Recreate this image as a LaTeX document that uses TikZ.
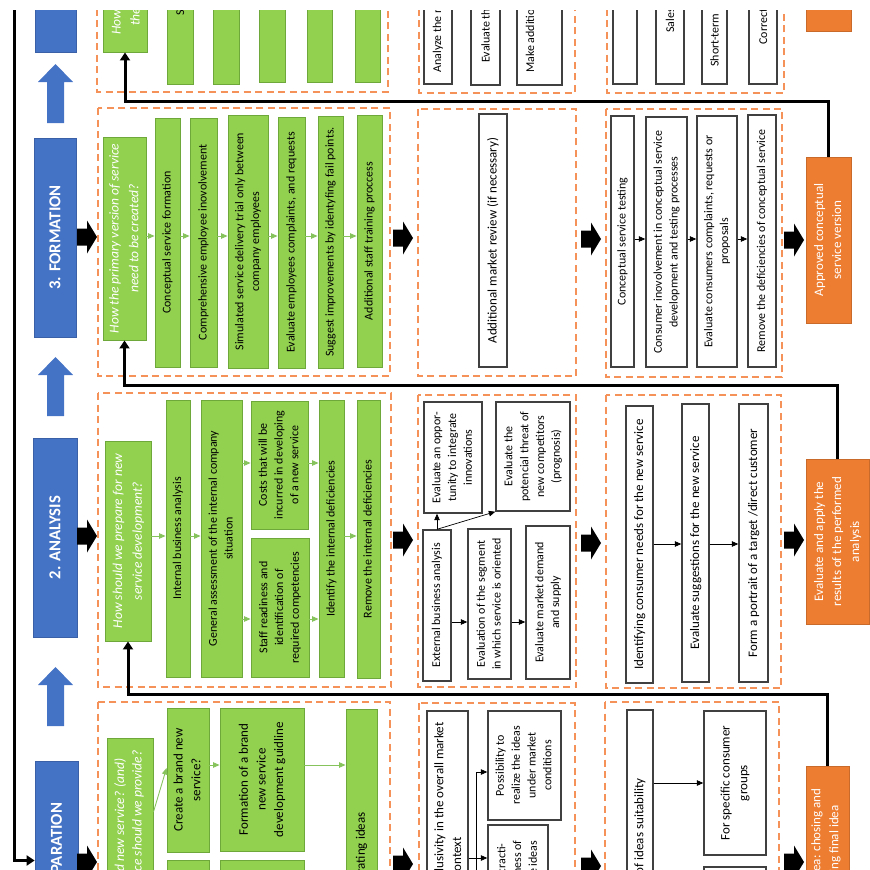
\documentclass[tikz,border=0pt]{standalone}
\usepackage{fontspec}
\setmainfont{Carlito}
\usepackage{graphicx}
\usetikzlibrary{arrows.meta}
\definecolor{grn}{HTML}{92D050}
\definecolor{grnln}{HTML}{6FA83A}
\definecolor{grnar}{HTML}{86C35C}
\definecolor{blu}{HTML}{4472C4}
\definecolor{org}{HTML}{ED7D31}
\definecolor{orgdash}{HTML}{F4925A}
\newcommand{\vt}[1]{\rotatebox{90}{\begin{tabular}{@{}c@{}}#1\end{tabular}}}
\newcommand{\txts}{\fontsize{6.8}{9}\selectfont}
\newcommand{\txtl}{\fontsize{7.4}{10}\selectfont}

\tikzset{
  bx/.style n args={4}{at={({(#1+#3)/2},{(#2+#4)/2})},
    minimum width={(#3-#1)*0.2mm},minimum height={(#4-#2)*0.2mm}},
  gbox/.style={draw=grnln,fill=grn,line width=0.5pt,inner sep=0pt,font=\txts},
  qbox/.style={gbox,text=white,font=\fontsize{7.7}{11.3}\selectfont\itshape},
  wbox/.style={draw=black!75,fill=white,line width=0.8pt,inner sep=0pt,font=\txts},
  obox/.style={draw=org!85!black,fill=org,line width=0.5pt,inner sep=0pt,text=white,font=\fontsize{7.4}{10.2}\selectfont},
  sbox/.style={fill=blu,draw=blu!85!black,line width=0.4pt,inner sep=0pt,text=white,font=\fontsize{9.5}{11}\selectfont\bfseries},
  dbox/.style={draw=orgdash,line width=0.9pt,dash pattern=on 1.4mm off 0.9mm},
  garr/.style={draw=grnar,line width=0.5pt,-{Triangle[length=1.3mm,width=1.1mm]}},
  karr/.style={draw=black,line width=0.4pt,-{Triangle[length=1.3mm,width=1.1mm]}},
  fb/.style={draw=black,line width=0.6mm,-{Triangle[length=1.6mm,width=2mm]}},
  lbl/.style={rotate=90,inner sep=0pt,font=\txts},
  qlbl/.style={lbl,text=white,font=\fontsize{7.7}{11.3}\selectfont\itshape},
  olbl/.style={lbl,text=white,font=\fontsize{7.4}{10.2}\selectfont},
  blk/.pic={\fill[black] (-10,-8.5) -- (0,-8.5) -- (0,-16.5) -- (10,0) -- (0,16.5) -- (0,8.5) -- (-10,8.5) -- cycle;},
  uparr/.pic={\fill[blu] (0,0) -- (17.5,18) -- (8.5,18) -- (8.5,59) -- (-8.5,59) -- (-8.5,18) -- (-17.5,18) -- cycle;}
}

\begin{document}
\begin{tikzpicture}[x=0.2mm,y=-0.2mm]
  \useasboundingbox (0,0) rectangle (870,870);
  \clip (0,10) rectangle (870,870);
  % stages
  \node[sbox,bx={35}{-150}{76}{52}] (s4) {};
  \node[sbox,bx={34}{138}{76}{337}] (s3) {\rotatebox{90}{3. FORMATION}};
  \node[sbox,bx={33}{438}{77}{637}] (s2) {\rotatebox{90}{2. ANALYSIS}};
  \node[sbox,bx={35}{761}{78}{960}] (s1) {\rotatebox{90}{1. PREPARATION}};
  \pic at (55.5,64) {uparr};
  \pic at (55.5,357) {uparr};
  \pic at (55.5,667) {uparr};
  \coordinate (top) at (14,0);
  \draw[fb] (top) |- (s1.west);

  % row 4 (top, cut off)
  \draw[dbox] (97,-210) rectangle (388,92);
  \node[qbox,bx={103}{-150}{147}{52}] (q4) {};
  \node[qlbl,anchor=west] (q4a) at (116,35) {How should we introduce the new service to};
  \node[qlbl,anchor=west] (q4b) at (135,26) {the market and the consumers?};
  \node[gbox,bx={167}{-200}{193}{84}] (g4a) {};
  \node[gbox,bx={213}{-200}{239}{84}] (g4b) {};
  \node[gbox,bx={259}{-200}{285}{82}] (g4c) {};
  \node[gbox,bx={307}{-200}{332}{82}] (g4d) {};
  \node[gbox,bx={355}{-200}{380}{82}] (g4e) {};
  \node[lbl,anchor=west] (g4t) at (180,16) {Service launch to the market};
  \draw[dbox] (419,-210) rectangle (575,93);
  \node[wbox,bx={424}{-200}{452}{84}] (m4a) {};
  \node[wbox,bx={471}{-200}{500}{85}] (m4b) {};
  \node[wbox,bx={517}{-200}{562}{85}] (m4c) {};
  \node[lbl,anchor=west] (m4at) at (438,73) {Analyze the market reaction};
  \node[lbl,anchor=west] (m4bt) at (485.5,63) {Evaluate the results};
  \node[lbl,anchor=west] (m4ct) at (531,73) {Make additional changes};
  \draw[dbox] (607,-210) rectangle (784,93);
  \node[wbox,bx={613}{-200}{637}{84}] (r4a) {};
  \node[wbox,bx={656}{-200}{684}{84}] (r4b) {};
  \node[wbox,bx={702}{-200}{727}{84}] (r4c) {};
  \node[wbox,bx={749}{-200}{777}{84}] (r4d) {};
  \node[lbl,anchor=west] (r4bt) at (670,33) {Sales volume};
  \node[lbl,anchor=west] (r4ct) at (714.5,67) {Short-term results};
  \node[lbl,anchor=west] (r4dt) at (763,45) {Correct the deficiencies};
  \node[obox,bx={806}{-150}{851}{31}] (o4) {};

  % row 3: formation
  \draw[dbox] (98,108) rectangle (390,376);
  \node[qbox,bx={103}{137}{146}{340}] (q3) {\vt{How the primary version of service\\need to be created?}};
  \node[gbox,bx={155}{118}{180}{367}] (f1) {\vt{Conceptual service formation}};
  \node[gbox,bx={190}{118}{217}{367}] (f2) {\vt{Comprehensive employee inovolvement}};
  \node[gbox,bx={228}{115}{268}{368}] (f3) {\vt{Simulated service delivery trial only between\\company employees}};
  \node[gbox,bx={278}{117}{305}{368}] (f4) {\vt{Evaluate employees complaints, and requests}};
  \node[gbox,bx={318}{116}{343}{368}] (f5) {\vt{Suggest improvements by identyfing fail points.}};
  \node[gbox,bx={357}{115}{382}{367}] (f6) {\vt{Additional staff training proccess}};
  \coordinate (r3) at (0,236);
  \draw[garr] (q3.east |- r3) -- (f1.west |- r3);
  \draw[garr] (f1.east |- r3) -- (f2.west |- r3);
  \draw[garr] (f2.east |- r3) -- (f3.west |- r3);
  \draw[garr] (f3.east |- r3) -- (f4.west |- r3);
  \draw[garr] (f4.east |- r3) -- (f5.west |- r3);
  \draw[garr] (f5.east |- r3) -- (f6.west |- r3);
  \draw[dbox] (418,109) rectangle (576,376);
  \node[wbox,font=\txtl,bx={479}{114}{507}{367}] (m3) {\vt{Additional market review (if necessary)}};
  \draw[dbox] (606,109) rectangle (782,377);
  \node[wbox,bx={611}{116}{634}{367}] (t1) {\vt{Conceptual service testing}};
  \node[wbox,bx={646}{117}{687}{367}] (t2) {\vt{Consumer inovolvement in conceptual service\\development and testing processes}};
  \node[wbox,bx={697}{116}{737}{367}] (t3) {\vt{Evaluate consumers complaints, requests or\\proposals}};
  \node[wbox,bx={748}{115}{776}{367}] (t4) {\vt{Remove the deficiencies of conceptual service}};
  \coordinate (r3c) at (0,239);
  \draw[karr] (t1.east |- r3c) -- (t2.west |- r3c);
  \draw[karr] (t2.east |- r3c) -- (t3.west |- r3c);
  \draw[karr] (t3.east |- r3c) -- (t4.west |- r3c);
  \node[obox,bx={806}{157}{851}{323}] (o3) {\vt{Approved conceptual\\service version}};
  \pic at (87,237) {blk};
  \pic at (403,238) {blk};
  \pic at (591,239) {blk};
  \pic at (794,240) {blk};
  \coordinate (k3) at (0,101);
  \draw[fb] (o3.north) |- (q4.south |- k3) -- (q4.south);

  % row 2: analysis
  \draw[dbox] (98,393) rectangle (391,687);
  \node[qbox,bx={105}{441}{151}{641}] (q2) {\vt{How should we prepare for new\\service development?}};
  \node[gbox,bx={166}{400}{190}{677}] (a1) {\vt{Internal business analysis}};
  \node[gbox,bx={201}{400}{242}{677}] (a2) {\vt{General assessment of the internal company\\situation}};
  \node[gbox,bx={251}{401}{308}{529}] (a3) {\vt{Costs that will be\\incurred in developing\\of a new service}};
  \node[gbox,bx={251}{538}{309}{677}] (a3b) {\vt{Staff readiness and\\identification of\\required competencies}};
  \node[gbox,bx={319}{400}{344}{677}] (a4) {\vt{Identify the internal deficiencies}};
  \node[gbox,bx={357}{400}{380}{678}] (a5) {\vt{Remove the internal deficiencies}};
  \coordinate (r2) at (0,536);
  \coordinate (r2a) at (0,463);
  \coordinate (r2b) at (0,619);
  \draw[garr] (q2.east |- r2) -- (a1.west |- r2);
  \draw[garr] (a1.east |- r2) -- (a2.west |- r2);
  \draw[garr] (a2.east |- r2a) -- (a3.west |- r2a);
  \draw[garr] (a2.east |- r2b) -- (a3b.west |- r2b);
  \draw[garr] (a3.east |- r2a) -- (a4.west |- r2a);
  \draw[garr] (a3b.east |- r2b) -- (a4.west |- r2b);
  \draw[garr] (a4.east |- r2) -- (a5.west |- r2);
  \draw[dbox] (418,395) rectangle (576,687);
  \node[wbox,bx={423}{530}{451}{681}] (e1) {\vt{External business analysis}};
  \node[wbox,bx={468}{529}{511}{679}] (e2) {\vt{Evaluation of the segment\\in which service is oriented}};
  \node[wbox,bx={526}{526}{570}{679}] (e3) {\vt{Evaluate market demand\\and supply}};
  \node[wbox,bx={424}{402}{482}{513}] (e4) {\vt{Evaluate an oppor-\\tunity to integrate\\innovations}};
  \node[wbox,bx={496}{402}{570}{511}] (e5) {\vt{Evaluate the\\potencial threat of\\new competitors\\(prognosis)}};
  \coordinate (r2m) at (0,622);
  \draw[karr] (e1.east |- r2m) -- (e2.west |- r2m);
  \draw[karr] (e2.east |- r2m) -- (e3.west |- r2m);
  \draw[karr] (e1.north) -- (e1.north |- e4.south);
  \draw[karr] (e1.north) -- (e5.south west);
  \draw[dbox] (606,395) rectangle (781,688);
  \node[wbox,font=\txtl,bx={626}{406}{653}{683}] (c1) {\vt{Identifying consumer needs for the new service}};
  \node[wbox,font=\txtl,bx={682}{404}{709}{682}] (c2) {\vt{Evaluate suggestions for the new service}};
  \node[wbox,font=\txtl,bx={739}{404}{768}{682}] (c3) {\vt{Form a portrait of a target /direct customer}};
  \coordinate (r2c) at (0,544);
  \draw[karr] (c1.east |- r2c) -- (c2.west |- r2c);
  \draw[karr] (c2.east |- r2c) -- (c3.west |- r2c);
  \node[obox,bx={806}{459}{869}{624}] (o2) {\vt{Evaluate and apply the\\results of the performed\\analysis}};
  \pic at (87,536) {blk};
  \pic at (403,540) {blk};
  \pic at (591,543) {blk};
  \pic at (794,540) {blk};
  \coordinate (k2) at (0,385);
  \draw[fb] (o2.north) |- (q3.south |- k2) -- (q3.south);

  % row 1: preparation (cut off)
  \draw[dbox] (98,702) rectangle (390,1000);
  \node[qbox,bx={107}{738}{153}{960}] (q1) {};
  \node[qlbl,anchor=east] (q1a) at (120,758) {Do we need a brand new service? (and)};
  \node[qlbl,anchor=east] (q1b) at (138,750) {What kind of service should we provide?};
  \node[gbox,font=\txtl,bx={167}{708}{209}{852}] (p1) {\vt{Create a brand new\\service?}};
  \node[gbox,font=\txtl,bx={220}{708}{304}{851}] (p2) {\vt{Formation of a brand\\new service\\development guidline}};
  \node[gbox,bx={167}{860}{209}{1000}] (p3) {};
  \node[gbox,bx={220}{860}{304}{1000}] (p4) {};
  \node[gbox,bx={346}{709}{377}{1000}] (p5) {};
  \node[lbl,font=\txtl,anchor=east] (p5t) at (361.5,812) {Generating ideas};
  \coordinate (r1q) at (0,812);
  \coordinate (r1p) at (0,768);
  \coordinate (r1) at (0,765);
  \draw[garr] (q1.east |- r1q) -- (p1.west |- r1p);
  \draw[garr] (p1.east |- r1) -- (p2.west |- r1);
  \draw[garr] (p2.east |- r1) -- (p5.west |- r1);
  \draw[dbox] (419,703) rectangle (575,1000);
  \node[wbox,bx={427}{711}{468}{1000}] (x1) {};
  \node[lbl,font=\txtl,anchor=east] (x1a) at (440,722) {Evaluation of exclusivity in the overall market};
  \node[lbl,font=\txtl,anchor=east] (x1b) at (457,837) {context};
  \node[wbox,bx={488}{711}{561}{820}] (x2) {\vt{Possibility to\\realize the ideas\\under market\\conditions}};
  \node[wbox,bx={488}{825}{548}{1000}] (x3) {};
  \node[lbl,anchor=east] (x3t) at (518,840) {\begin{tabular}{@{}c@{}}Attracti-\\veness of\\the ideas\end{tabular}};
  \coordinate (xb) at (476,900);
  \coordinate (xt) at (0,772);
  \coordinate (xm) at (0,858);
  \draw[karr] (x1.east |- xb) -- (xb) |- (x2.west |- xt);
  \draw[karr] (x1.east |- xm) -- (x3.west |- xm);
  \draw[dbox] (605,702) rectangle (779,1000);
  \node[wbox,bx={627}{710}{653}{1000}] (u1) {};
  \node[lbl,font=\txtl,anchor=east] (u1t) at (640,778) {Evaluation of ideas suitability};
  \node[wbox,font=\txtl,bx={704}{711}{766}{855}] (u2) {\vt{For specific consumer\\groups}};
  \node[wbox,bx={704}{867}{766}{1000}] (u3) {};
  \coordinate (ru) at (0,783);
  \draw[karr] (u1.east |- ru) -- (u2.west |- ru);
  \node[obox,bx={806}{766}{849}{940}] (o1) {};
  \node[olbl,anchor=east] (o1a) at (817,788) {Idea: chosing and};
  \node[olbl,anchor=east] (o1b) at (835,805) {approving final idea};
  \pic at (87,862) {blk};
  \pic at (403,864) {blk};
  \pic at (591,866) {blk};
  \pic at (794,862) {blk};
  \coordinate (k1) at (0,694);
  \draw[fb] (o1.north) |- (q2.south |- k1) -- (q2.south);
\end{tikzpicture}
\end{document}
